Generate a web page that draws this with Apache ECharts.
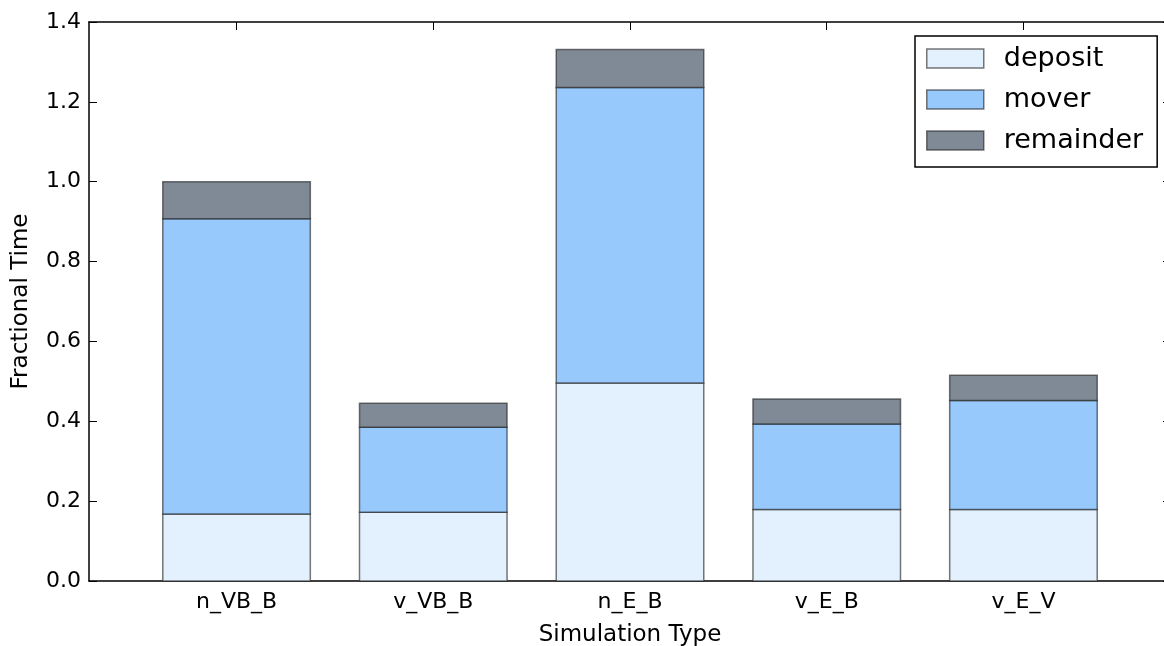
<!DOCTYPE html>
<html>
<head>
<meta charset="utf-8">
<script src="https://cdn.jsdelivr.net/npm/echarts@6/dist/echarts.min.js"></script>
<style>
html,body{margin:0;padding:0;background:#fff;}
#chart{width:1164px;height:646px;}
</style>
</head>
<body>
<div id="chart"></div>
<script>
var categories = ['n_VB_B', 'v_VB_B', 'n_E_B', 'v_E_B', 'v_E_V'];
var deposit = [0.168, 0.172, 0.496, 0.179, 0.179];
var mover = [0.739, 0.213, 0.740, 0.214, 0.273];
var remainder = [0.093, 0.060, 0.095, 0.063, 0.063];

var FONT = 'DejaVu Sans';
var EDGE = 'rgba(30,30,30,0.6)';
var catIdx = categories.map(function (c, i) { return i; });

function addArr(a, b) { return a.map(function (v, i) { return v + b[i]; }); }
var zeros = categories.map(function () { return 0; });
var base1 = zeros;
var base2 = addArr(base1, deposit);
var base3 = addArr(base2, mover);

function stackSeries(name, color, bases, vals) {
  return {
    type: 'custom', name: name,
    xAxisIndex: 0, yAxisIndex: 0,
    itemStyle: { color: color },
    encode: { x: 0, y: [1, 2] },
    data: vals.map(function (v, i) { return [i, bases[i], bases[i] + v]; }),
    renderItem: function (params, api) {
      var x = api.value(0), lo = api.value(1), hi = api.value(2);
      var p0 = api.coord([x, lo]);
      var p1 = api.coord([x, hi]);
      var w = api.size([0.75, 0])[0];
      return {
        type: 'rect',
        shape: { x: p0[0] - w / 2, y: p1[1], width: w, height: p0[1] - p1[1] },
        style: { fill: color, stroke: EDGE, lineWidth: 1.5 }
      };
    }
  };
}

var chart = echarts.init(document.getElementById('chart'));
var axisLine = { show: true, onZero: false, lineStyle: { color: '#000', width: 1.5 } };
var tickStyle = { show: true, inside: true, length: 8, lineStyle: { color: '#000', width: 1 } };

var option = {
  animation: false,
  backgroundColor: '#fff',
  grid: { left: 89, right: -7, top: 22, bottom: 65, outerBoundsMode: 'none', containLabel: false },
  legend: {
    orient: 'vertical',
    left: 915, top: 36,
    padding: [9, 14, 13, 11],
    itemGap: 14,
    itemWidth: 57, itemHeight: 19,
    icon: 'rect',
    borderColor: '#000', borderWidth: 1.5, borderRadius: 0,
    backgroundColor: '#fff',
    itemStyle: { borderColor: EDGE, borderWidth: 1.5 },
    textStyle: { fontFamily: FONT, fontSize: 27, lineHeight: 27, color: '#000', padding: [0, 0, 0, 15] },
    data: ['deposit', 'mover', 'remainder']
  },
  xAxis: [{
    type: 'value', position: 'bottom', min: -0.75, max: 4.75,
    axisLine: axisLine,
    axisTick: Object.assign({ customValues: catIdx }, tickStyle),
    axisLabel: {
      customValues: catIdx, margin: 10,
      fontFamily: FONT, fontSize: 22, color: '#000',
      formatter: function (v) { return categories[Math.round(v)]; }
    },
    splitLine: { show: false },
    name: 'Simulation Type', nameLocation: 'middle', nameGap: 43,
    nameTextStyle: { fontFamily: FONT, fontSize: 23, color: '#000' }
  }, {
    type: 'value', position: 'top', min: -0.75, max: 4.75,
    axisLine: axisLine,
    axisTick: Object.assign({ customValues: catIdx }, tickStyle),
    axisLabel: { show: false },
    splitLine: { show: false }
  }],
  yAxis: [{
    type: 'value', position: 'left', min: 0, max: 1.4, interval: 0.2,
    axisLine: axisLine,
    axisTick: tickStyle,
    axisLabel: {
      margin: 8, fontFamily: FONT, fontSize: 22, color: '#000',
      formatter: function (v) { return v.toFixed(1); }
    },
    splitLine: { show: false },
    name: 'Fractional Time', nameLocation: 'middle', nameGap: 56, nameRotate: 90,
    nameTextStyle: { fontFamily: FONT, fontSize: 23, color: '#000' }
  }, {
    type: 'value', position: 'right', min: 0, max: 1.4, interval: 0.2,
    axisLine: axisLine,
    axisTick: tickStyle,
    axisLabel: { show: false },
    splitLine: { show: false }
  }],
  series: [
    stackSeries('deposit', '#e3f0fd', base1, deposit),
    stackSeries('mover', '#98c9fd', base2, mover),
    stackSeries('remainder', '#7f8a96', base3, remainder)
  ]
};
chart.setOption(option);
</script>
</body>
</html>
